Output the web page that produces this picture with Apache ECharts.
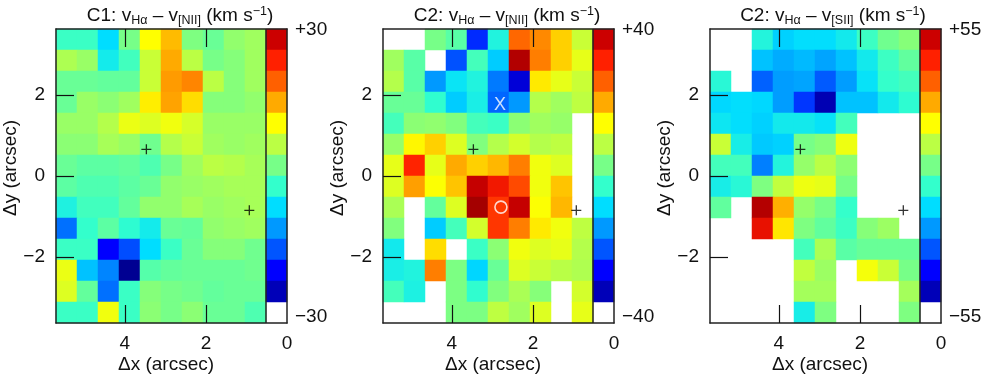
<!DOCTYPE html>
<html>
<head>
<meta charset="utf-8">
<script src="https://cdn.jsdelivr.net/npm/echarts@6/dist/echarts.min.js"></script>
<style>
html, body { margin: 0; padding: 0; background: #fff; }
#main { width: 981px; height: 375px; }
</style>
</head>
<body>
<div id="main"></div>
<script>
var _ = null;

// velocity differences in km/s, row 0 is the top of the map, column 0 the left
var c1Nii = [
    [-4.5, -4.5, -10, 0, 10, 14, 0.5, -1, 2, 3],
    [4, 2.5, -8, -4, 6, 15, 5, 0, 1, 3],
    [-1, -1, -1.5, -1.5, 6, 16, 17.5, 5, 1, 3],
    [-1, 2.5, 1.5, 3, 11, 15.5, 12, 1, 1, 2],
    [2.5, 2.5, 4.5, 8.5, 7.5, 9, 7, 2.5, 2.5, 2.5],
    [1.5, 1.5, 3.5, 2.5, -0.5, 4.5, 6, 3, 2.5, 3],
    [-1, -2, -2, -1.5, -3, 0, 3, 5, 4.5, 3.5],
    [-2, -3, -3, -2, -1, 2, 2.5, 3, 3.5, 3.5],
    [-7, -4, -4, -1.5, 2, 2, 3.5, 2.5, 3, 3.5],
    [-18, -5, -2, -5.5, -8, -1, -1.5, 2, 2.5, 3],
    [-4.5, -4.5, -25, -20.5, -10, -4.5, -1, 1, 1, -0.5],
    [8.5, -12, -16.5, -34, -2.5, -1.5, -1, -1, -1, -0.5],
    [7.5, -1.5, -18, -4.5, 1, 0, -0.5, -1.5, -1, -1],
    [-4.5, -4.5, 9, -4.5, 1.5, 0, 1.5, -1, -1, -3]
];
var c2Nii = [
    [_, _, 0, -3, -30, -9, 26, 23, 17, 8],
    [4, -3, _, -27, -5, -15, 44, 24, 17, 11],
    [6, -3, -20, -12, -9, -23, -37, 15, 11, 8],
    [-1.5, -1.5, -7, -15, -10, -25, -20, 6, 4, 7],
    [-5, 2, 2.5, 1, -5, -6, 2, 4, 3, _],
    [3, 14, 17, 10, 1, 6, 9, 6, 7, _],
    [11, 33, 11, 20, 17, 19, 24, 12, 10, _],
    [10, 21, 13, 18, 41, 35, 29, 12, 18, _],
    [5, _, -2, 10, 46, 31, 41, 13, 19, _],
    [1, _, -15, -5, 9, 31, 24, 15, 12, 7],
    [-11, _, 16, _, -6, 2, 12, 10, 11, 6],
    [-10, -9, 24, 0.5, -14, -1.5, 10, 8, 6.5, 5.5],
    [-5, -9.5, _, 0.5, -7, 1, 5, 1.5, _, 9],
    [_, _, _, 0.5, 0.5, 7, 4, 10, _, 11]
];
var c2Sii = [
    [_, _, -12, -20, -18, -18, -15, -8, -1, 2],
    [_, _, -22, -25, -23, -26, -22, -15, -8, -3],
    [-11, _, -35, -27, -26, -36, -27, -17, -9, -7],
    [-19, -18, -19, -27, -40, -56, -22, -22, -15, -10],
    [-16, -18, -20, -15, -15, -17, -7, _, _, _],
    [11, -14, -21, -20, 0, 2, 16, _, _, _],
    [-7, -7, -31, -12, 4, 9, 3, _, _, _],
    [-14, -11, 1, 10, 16, 15, 0, _, _, _],
    [-3, _, 60, 27, 4, 0, -9, _, _, _],
    [_, _, 50, 21, 1, -3, -8, 2, 5, _],
    [_, _, _, _, -7, 7, -4, -2, -2, -2],
    [_, _, _, _, 10, 5, _, 17, 11, 0],
    [_, _, _, _, 6, 6, _, _, _, 6],
    [_, _, _, _, -14, 1, _, _, _, 1]
];

// colour bar column, bottom cell is the "no data" white one
var c1Bar = [30, 25, 20, 15, 10, 5, 0, -5, -10, -15, -20, -25, -30, _];
var c2NiiBar = [40, 33.3, 26.7, 20, 13.3, 6.7, 0, -6.7, -13.3, -20, -26.7, -33.3, -40, _];
var c2SiiBar = [55, 45.8, 36.7, 27.5, 18.3, 9.2, 0, -9.2, -18.3, -27.5, -36.7, -45.8, -55, _];

var limits = [30, 40, 55];
var titles = [
    '{b|C1: v}{s|Hα}{b| – v}{s|[NII]}{b| (km s}{p|−1}{b|)}',
    '{b|C2: v}{s|Hα}{b| – v}{s|[NII]}{b| (km s}{p|−1}{b|)}',
    '{b|C2: v}{s|Hα}{b| – v}{s|[SII]}{b| (km s}{p|−1}{b|)}'
];
var plusPoints = [[3.47, 0.66], [0.93, -0.85]];
var xMarkPoint = [[2.81, 1.76]];
var oMarkPoint = [[2.79, -0.77]];

var jet = ['#000088', '#0000b8', '#0000ff', '#0055ff', '#0099ff', '#00ddff', '#33ffcc', '#77ff88',
    '#bbff44', '#ffff00', '#ffaa00', '#ff6000', '#ff2000', '#cc0000', '#a00000'];

var maps = [c1Nii, c2Nii, c2Sii];
var bars = [c1Bar, c2NiiBar, c2SiiBar];
var lefts = [56, 383, 710];
var titleX = [175, 502, 828];
var xSpan = 5.7, ySpan = 3.64;
var font = '"Liberation Sans", Arial, sans-serif';
var plusPath = 'path://M4,0h1.2v4h4v1.2h-4v4h-1.2v-4h-4v-1.2h4z';
var frame = {show: true, onZero: false, lineStyle: {color: '#222', width: 1.5}};

function fmt(v) {
    return String(v).replace('-', '\u2212');
}

function cells(i) {
    var res = [];
    maps[i].forEach(function (row, r) {
        row.concat(bars[i][r]).forEach(function (v, c) {
            if (v !== null) res.push([c, r, v]);
        });
    });
    return res;
}

var option = {
    backgroundColor: '#fff',
    title: [], grid: [], xAxis: [], yAxis: [], visualMap: [], series: [],
    animation: false
};

lefts.forEach(function (left, i) {
    var g = {left: left, top: 29, width: 231, height: 294, outerBoundsMode: 'none'};
    var base = i * 2, vis = i * 2 + 1;
    var xBase = option.xAxis.length;
    var yBase = option.yAxis.length;

    option.title.push({
        text: titles[i], left: titleX[i], top: 0, textAlign: 'center',
        textStyle: {
            fontWeight: 'normal',
            rich: {
                b: {fontFamily: font, fontSize: 19, fontWeight: 'normal', color: '#111'},
                s: {fontFamily: font, fontSize: 12.5, fontWeight: 'normal', color: '#111', padding: [9, 0, 0, 0]},
                p: {fontFamily: font, fontSize: 12.5, fontWeight: 'normal', color: '#111', padding: [0, 0, 9, 0]}
            }
        }
    });
    option.grid.push(g, g);

    // heatmap cells on index axes
    option.xAxis.push({type: 'category', gridIndex: base, show: false, data: [0, 1, 2, 3, 4, 5, 6, 7, 8, 9, 10]});
    option.yAxis.push({type: 'category', gridIndex: base, show: false, inverse: true,
        data: [0, 1, 2, 3, 4, 5, 6, 7, 8, 9, 10, 11, 12, 13]});

    // arcsec axes on top of the cells
    option.xAxis.push({
        type: 'value', gridIndex: vis, inverse: true, min: 0, max: xSpan, position: 'bottom', z: 5,
        name: '\u0394x (arcsec)', nameLocation: 'middle', nameGap: 32, nameMoveOverlap: false,
        nameTextStyle: {fontFamily: font, fontSize: 19, color: '#111', padding: [0, 11, 0, 0]},
        axisLine: frame, splitLine: {show: false}, minorTick: {show: false},
        axisTick: {inside: true, length: 18, customValues: [2, 4], lineStyle: {color: '#111', width: 1.2}},
        axisLabel: {customValues: [0, 2, 4], margin: 11, fontFamily: font, fontSize: 19, color: '#111'}
    }, {
        type: 'value', gridIndex: vis, inverse: true, min: 0, max: xSpan, position: 'top', z: 5,
        axisLine: frame, splitLine: {show: false},
        axisTick: {inside: true, length: 18, customValues: [2, 4], lineStyle: {color: '#111', width: 1.2}},
        axisLabel: {show: false}
    });
    option.yAxis.push({
        type: 'value', gridIndex: vis, min: -ySpan, max: ySpan, position: 'left', z: 5,
        name: '\u0394y (arcsec)', nameLocation: 'middle', nameGap: 36, nameMoveOverlap: false,
        nameTextStyle: {fontFamily: font, fontSize: 19, color: '#111', padding: [0, 0, 0, 16]},
        axisLine: frame, splitLine: {show: false},
        axisTick: {inside: true, length: 18, customValues: [-2, 0, 2], lineStyle: {color: '#111', width: 1.2}},
        axisLabel: {customValues: [-2, 0, 2], margin: 11, fontFamily: font, fontSize: 19, color: '#111', formatter: fmt}
    }, {
        // colour bar end labels
        type: 'value', gridIndex: vis, min: -limits[i] * 1.047, max: limits[i] * 1.007, position: 'right', z: 5,
        axisLine: frame, splitLine: {show: false}, axisTick: {show: false},
        axisLabel: {
            customValues: [-limits[i], limits[i]], margin: 8, fontFamily: font, fontSize: 19, color: '#111',
            formatter: function (v) { return v > 0 ? '+' + v : fmt(v); }
        }
    });

    option.visualMap.push({
        show: false, type: 'continuous', seriesIndex: option.series.length, dimension: 2,
        min: -limits[i] * 7 / 6, max: limits[i] * 7 / 6, inRange: {color: jet}
    });

    option.series.push({
        type: 'heatmap', xAxisIndex: xBase, yAxisIndex: yBase, data: cells(i),
        itemStyle: {borderWidth: 0}, emphasis: {disabled: true}, progressive: 0
    });
    option.series.push({
        type: 'scatter', xAxisIndex: xBase + 1, yAxisIndex: yBase + 1, z: 6, silent: true,
        data: plusPoints, symbol: plusPath, symbolSize: 10, itemStyle: {color: '#000'},
        markLine: {
            silent: true, symbol: 'none', animation: false, label: {show: false},
            lineStyle: {color: '#222', type: 'solid', width: 1.5},
            data: [{xAxis: xSpan / 11}]
        }
    });
    if (i === 1) {
        option.series.push({
            type: 'scatter', xAxisIndex: xBase + 1, yAxisIndex: yBase + 1, z: 6, silent: true,
            data: xMarkPoint, symbolSize: 1, itemStyle: {color: 'transparent'},
            label: {show: true, position: 'inside', formatter: 'X', fontFamily: font, fontSize: 18, color: '#fff'}
        });
        option.series.push({
            type: 'scatter', xAxisIndex: xBase + 1, yAxisIndex: yBase + 1, z: 6, silent: true,
            data: oMarkPoint, symbol: 'circle', symbolSize: 12,
            itemStyle: {color: 'transparent', borderColor: '#fff', borderWidth: 1.6}
        });
    }
});

var chart = echarts.init(document.getElementById('main'), null, {renderer: 'canvas'});
chart.setOption(option);
</script>
</body>
</html>
